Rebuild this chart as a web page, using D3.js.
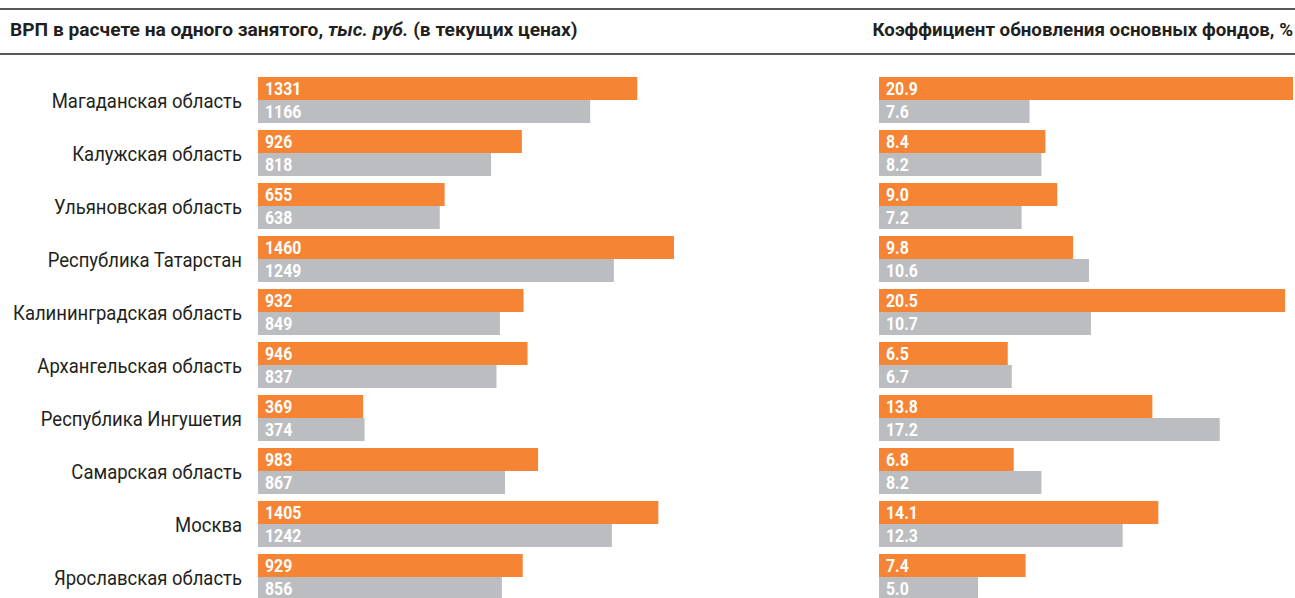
<!DOCTYPE html>
<html>
<head>
<meta charset="utf-8">
<script src="https://cdn.jsdelivr.net/npm/d3@7"></script>
<style>
  body { margin: 0; background: #fff; }
  svg { display: block; }
  text { font-family: Roboto, "Noto Sans", sans-serif; }
</style>
</head>
<body>
<svg id="chart" width="1295" height="598"></svg>
<script>
const regions = ['Магаданская область', 'Калужская область', 'Ульяновская область', 'Республика Татарстан',
  'Калининградская область', 'Архангельская область', 'Республика Ингушетия', 'Самарская область',
  'Москва', 'Ярославская область'];

// ВРП на одного занятого, тыс. руб.
const grpOrange = [1331, 926, 655, 1460, 932, 946, 369, 983, 1405, 929];
const grpGray = [1166, 818, 638, 1249, 849, 837, 374, 867, 1242, 856];

// коэффициент обновления основных фондов, %
const renewOrange = [20.9, 8.4, 9.0, 9.8, 20.5, 6.5, 13.8, 6.8, 14.1, 7.4];
const renewGray = [7.6, 8.2, 7.2, 10.6, 10.7, 6.7, 17.2, 8.2, 12.3, 5.0];

const leftTitleParts = [
  { t: 'ВРП в расчете на одного занятого, ', italic: false },
  { t: 'тыс. руб.', italic: true },
  { t: ' (в текущих ценах)', italic: false }
];
const rightTitle = 'Коэффициент обновления основных фондов, %';

const orange = '#f58434';
const gray = '#bcbdc0';
const ink = '#231f20';
const W = 1295;

const svg = d3.select('#chart');

// the source font is a condensed face; squeeze Roboto horizontally
function squeeze(sel, x, y, sx) {
  sel.attr('transform', `translate(${x},${y}) scale(${sx},1)`);
}

svg.selectAll('line.rule').data([9, 54]).join('line')
  .attr('class', 'rule')
  .attr('x1', 0).attr('x2', W)
  .attr('y1', d => d).attr('y2', d => d)
  .attr('stroke', ink).attr('stroke-width', 1.5);

const leftTitle = svg.append('text')
  .attr('font-size', 19).attr('font-weight', 700).attr('fill', ink);
leftTitle.selectAll('tspan').data(leftTitleParts).join('tspan')
  .attr('font-style', d => d.italic ? 'italic' : null)
  .text(d => d.t);
let lw = leftTitle.node().getComputedTextLength();
squeeze(leftTitle, 10, 36, 568 / lw);

const rt = svg.append('text')
  .attr('text-anchor', 'end')
  .attr('font-size', 19).attr('font-weight', 700).attr('fill', ink)
  .text(rightTitle);
let rw = rt.node().getComputedTextLength();
squeeze(rt, 1293, 36, 421 / rw);

// row layout: 10 rows, 53px pitch, two 23px bars each
const y = d3.scaleBand().domain(regions).range([77, 600]).paddingInner(7 / 53).paddingOuter(0);
const barH = y.bandwidth() / 2;

const xLeft = d3.scaleLinear().domain([0, 1460]).range([258, 674]);
const xRight = d3.scaleLinear().domain([0, 20.9]).range([879, 1293]);

svg.selectAll('text.region').data(regions).join('text')
  .attr('class', 'region')
  .attr('text-anchor', 'end')
  .attr('font-size', 21).attr('fill', ink)
  .text(d => d)
  .each(function (d) { squeeze(d3.select(this), 242, y(d) + barH + 8, 0.88); });

function panel(x, orangeVals, grayVals, fmt) {
  const g = svg.append('g');
  const rows = regions.map((r, i) => ({ r, o: orangeVals[i], g: grayVals[i] }));
  const series = [
    { key: 'o', color: orange, off: 0 },
    { key: 'g', color: gray, off: barH }
  ];
  series.forEach(s => {
    g.selectAll('rect.' + s.key).data(rows).join('rect')
      .attr('class', s.key)
      .attr('x', x(0))
      .attr('y', d => y(d.r) + s.off)
      .attr('width', d => x(d[s.key]) - x(0))
      .attr('height', barH)
      .attr('fill', s.color);
    g.selectAll('text.v' + s.key).data(rows).join('text')
      .attr('class', 'v' + s.key)
      .attr('font-size', 18).attr('font-weight', 700).attr('fill', '#fff')
      .text(d => fmt(d[s.key]))
      .each(function (d) { squeeze(d3.select(this), x(0) + 7, y(d.r) + s.off + 18, 0.88); });
  });
}

panel(xLeft, grpOrange, grpGray, d3.format('d'));
panel(xRight, renewOrange, renewGray, d3.format('.1f'));
</script>
</body>
</html>
